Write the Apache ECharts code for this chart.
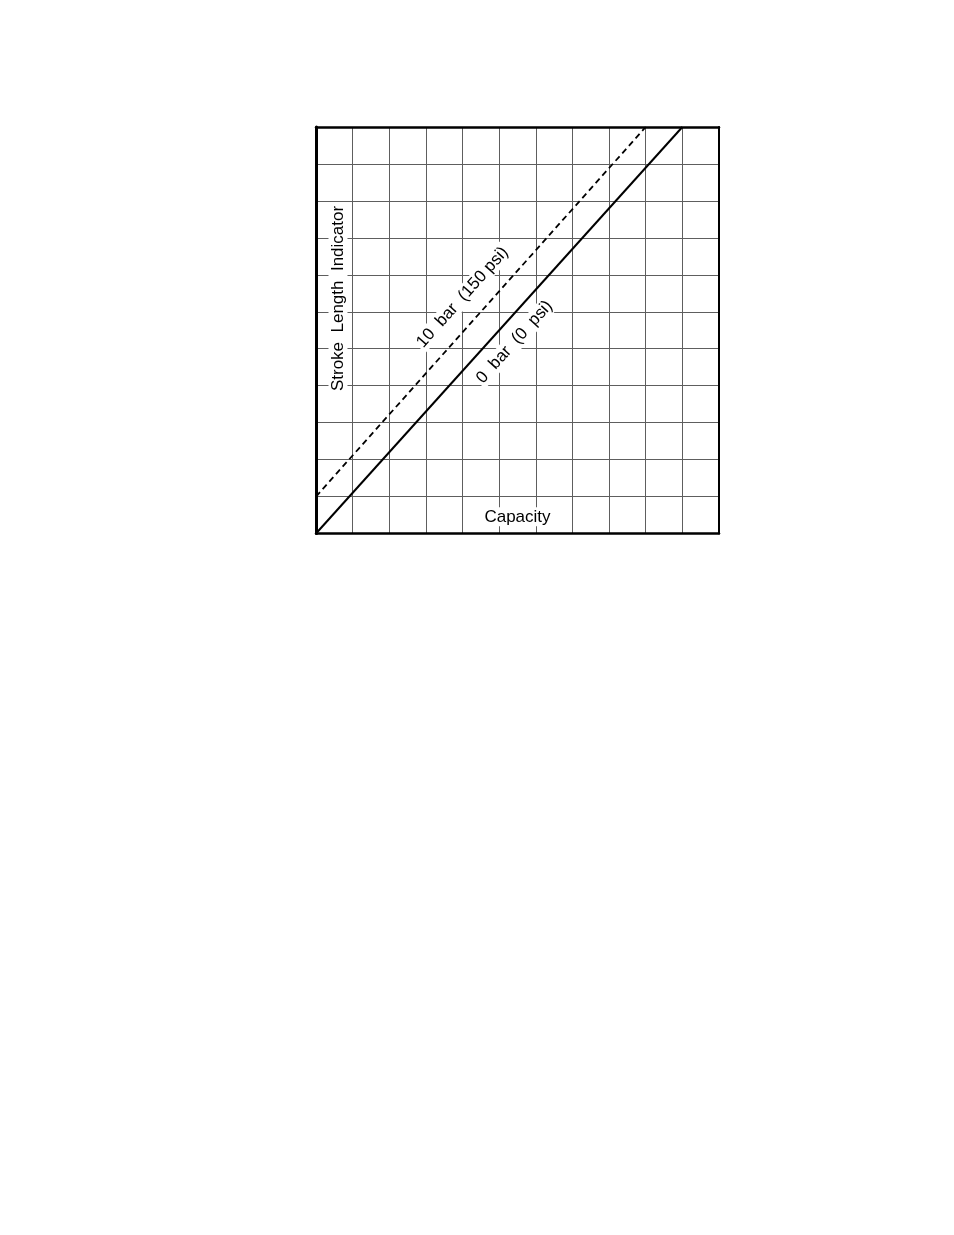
<!DOCTYPE html>
<html>
<head>
<meta charset="utf-8">
<script src="https://cdn.jsdelivr.net/npm/echarts@6/dist/echarts.min.js"></script>
<style>
html,body{margin:0;padding:0;background:#fff;}
#chart{width:954px;height:1235px;}
</style>
</head>
<body>
<div id="chart"></div>
<script>
// Axis ranges (grid cells)
const xRange = [0, 11];
const yRange = [0, 11];
// Series: 0 bar (0 psi) – solid; 10 bar (150 psi) – dashed
const line0bar = [[0, 0], [10, 11]];
const line10bar = [[0, 1], [9, 11]];
// Text labels (anchor in data coords)
const labelTexts = ['Capacity', 'Stroke  Length  Indicator', '10  bar  (150 psi)', '0  bar  (0  psi)'];
const labelAnchors = [[5.5, 0.45], [0.6, 6.36], [4.0, 6.39], [5.42, 5.18]];

const chart = echarts.init(document.getElementById('chart'));
const hidden = {axisTick: {show: false}, axisLabel: {show: false}};
const grid = {color: '#5e5e5e', width: 1};
const option = {
  animation: false,
  backgroundColor: '#fff',
  grid: {left: 316, top: 127, right: 235, bottom: 701.5, show: false},
  xAxis: [
    Object.assign({
      type: 'value', position: 'bottom', min: xRange[0], max: xRange[1], interval: 1,
      axisLine: {show: true, onZero: false, lineStyle: {color: '#000', width: 2.5}},
      splitLine: {show: true, lineStyle: grid}
    }, hidden),
    Object.assign({
      type: 'value', position: 'top', min: xRange[0], max: xRange[1], interval: 1,
      axisLine: {show: true, onZero: false, lineStyle: {color: '#000', width: 2.5}},
      splitLine: {show: false}
    }, hidden)
  ],
  yAxis: [
    Object.assign({
      type: 'value', position: 'left', min: yRange[0], max: yRange[1], interval: 1,
      axisLine: {show: true, onZero: false, lineStyle: {color: '#000', width: 3}},
      splitLine: {show: true, lineStyle: grid}
    }, hidden),
    Object.assign({
      type: 'value', position: 'right', min: yRange[0], max: yRange[1], interval: 1,
      axisLine: {show: true, onZero: false, lineStyle: {color: '#000', width: 2}},
      splitLine: {show: false}
    }, hidden)
  ],
  series: [
    {
      type: 'line', data: line0bar, symbol: 'none', z: 3,
      lineStyle: {color: '#000', width: 2, type: 'solid'}
    },
    {
      type: 'line', data: line10bar, symbol: 'none', z: 3,
      lineStyle: {color: '#000', width: 1.8, type: [6, 4]}
    }
  ]
};
chart.setOption(option);

function angleOf(series) {
  const a = chart.convertToPixel({gridIndex: 0}, series[0]);
  const b = chart.convertToPixel({gridIndex: 0}, series[1]);
  return Math.atan2(a[1] - b[1], b[0] - a[0]);
}
const rotations = [0, Math.PI / 2, angleOf(line10bar), angleOf(line0bar)];

const graphics = labelTexts.map((t, i) => {
  const p = chart.convertToPixel({gridIndex: 0}, labelAnchors[i]);
  return {
    type: 'text', x: p[0], y: p[1], rotation: rotations[i], z: 10,
    style: {
      text: t, align: 'center', verticalAlign: 'middle',
      font: '17px "Liberation Sans", Arial, sans-serif', fill: '#000',
      backgroundColor: '#fff', padding: [1, 2]
    }
  };
});
chart.setOption({graphic: graphics});
</script>
</body>
</html>
